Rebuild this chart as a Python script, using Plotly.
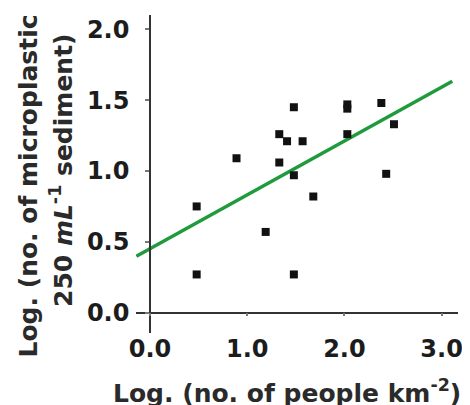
import plotly.graph_objects as go

# Data
people_log = [0.48, 0.48, 0.89, 1.19, 1.33, 1.33, 1.41, 1.48, 1.48, 1.48,
              1.57, 1.68, 2.03, 2.03, 2.03, 2.38, 2.51, 2.43]
micro_log = [0.75, 0.27, 1.09, 0.57, 1.26, 1.06, 1.21, 1.45, 0.97, 0.27,
             1.21, 0.82, 1.47, 1.44, 1.26, 1.48, 1.33, 0.98]

fit_x = [-0.14, 3.11]
fit_slope = 0.38
fit_intercept = 0.452
fit_y = [fit_intercept + fit_slope * v for v in fit_x]

x_ticks = [0.0, 1.0, 2.0, 3.0]
x_tick_labels = ["0.0", "1.0", "2.0", "3.0"]
y_ticks = [0.0, 0.5, 1.0, 1.5, 2.0]
y_tick_labels = ["0.0", "0.5", "1.0", "1.5", "2.0"]

# page body has an 8px margin; work in screen pixels and subtract it
OFF = 8
SW, SH = 470, 405
W, H = SW - OFF, SH - OFF
# plot area in screen pixels
L_px, R_px, T_px, B_px = 136, 458, 15, 333
ml, mr, mt, mb = L_px - OFF, SW - R_px, T_px - OFF, SH - B_px
pw, ph = R_px - L_px, B_px - T_px
x0_px, x_scale = 150.0, 97.2
y0_px, y_scale = 312.7, 141.7
x_range = [(L_px - x0_px) / x_scale, (R_px - x0_px) / x_scale]
y_range = [(y0_px - B_px) / y_scale, (y0_px - T_px) / y_scale]
yaxis_pos = (x0_px - L_px) / pw
xaxis_pos = (B_px - y0_px) / ph


def px_x(sx):
    return (sx - L_px) / pw


def px_y(sy):
    return (B_px - sy) / ph


FONT = "DejaVu Sans"
TXT = "#1c1c1c"
TTL = "#2a2a2a"

fig = go.Figure()
fig.add_trace(go.Scatter(x=fit_x, y=fit_y, mode="lines",
                         line=dict(color="#1f9a3d", width=3.5),
                         hoverinfo="skip", showlegend=False))
fig.add_trace(go.Scatter(x=people_log, y=micro_log, mode="markers",
                         marker=dict(symbol="square", size=8, color="#111111",
                                     line=dict(width=0)),
                         showlegend=False, cliponaxis=False))

fig.update_layout(
    width=W, height=H,
    margin=dict(l=ml, r=mr, t=mt, b=mb, autoexpand=False),
    paper_bgcolor="white", plot_bgcolor="white",
    font=dict(family=FONT, color=TXT),
    xaxis=dict(range=x_range, anchor="free", position=xaxis_pos,
               automargin=False,
               showgrid=False, zeroline=False,
               showline=True, linecolor="#333333", linewidth=1.5,
               ticks="outside", ticklen=3, tickwidth=1.5, tickcolor="#777777",
               tickvals=x_ticks, ticktext=x_tick_labels,
               tickfont=dict(family=FONT, size=24, color=TXT, weight="bold"),
               ticklabelstandoff=12),
    yaxis=dict(range=y_range, anchor="free", position=yaxis_pos,
               automargin=False,
               showgrid=False, zeroline=False,
               showline=True, linecolor="#333333", linewidth=1.5,
               ticks="outside", ticklen=4, tickwidth=1.5, tickcolor="#777777",
               tickvals=y_ticks, ticktext=y_tick_labels,
               tickfont=dict(family=FONT, size=24, color=TXT, weight="bold"),
               ticklabelstandoff=11),
    annotations=[
        dict(text="Log. (no. of people km<sup>-2</sup>)",
             xref="paper", yref="paper",
             x=px_x(287), y=px_y(391),
             xanchor="center", yanchor="middle", showarrow=False,
             font=dict(family=FONT, size=25, color=TTL, weight="bold")),
        dict(text="Log. (no. of microplastic",
             xref="paper", yref="paper", textangle=-90,
             x=px_x(28), y=px_y(186.5),
             xanchor="center", yanchor="middle", showarrow=False,
             font=dict(family=FONT, size=25, color=TTL, weight="bold")),
        dict(text="250 <i>mL</i><sup>-1</sup> sediment)",
             xref="paper", yref="paper", textangle=-90,
             x=px_x(61.5), y=px_y(170.5),
             xanchor="center", yanchor="middle", showarrow=False,
             font=dict(family=FONT, size=25, color=TTL, weight="bold")),
    ],
)

fig.write_html("out.html")
